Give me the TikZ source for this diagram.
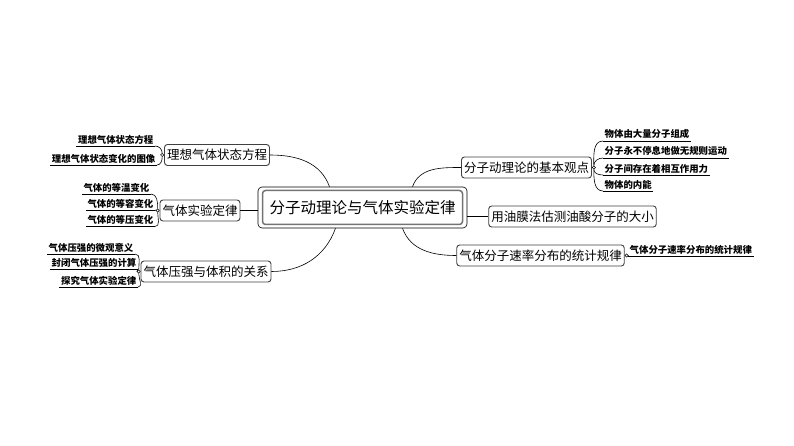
\documentclass[tikz,border=0pt]{standalone}
\usepackage{fontspec}
\newfontfamily\cjk{Noto Sans CJK SC}
\begin{document}
\begin{tikzpicture}[x=1pt,y=-1pt,
  box/.style={draw=black!75, line width=0.9pt, rounded corners=3pt, fill=white,
    font=\cjk\fontsize{12.5}{14}\selectfont, inner xsep=2.5pt, inner ysep=2pt, minimum height=21pt},
  leafL/.style={font=\cjk\bfseries\fontsize{9.4}{10}\selectfont, inner xsep=1.5pt, inner ysep=1.8pt, anchor=south east},
  leafR/.style={font=\cjk\bfseries\fontsize{9.4}{10}\selectfont, inner xsep=1.5pt, inner ysep=1.8pt, anchor=south west},
  uline/.style={line width=0.7pt},
  link/.style={line width=0.6pt},
  dot/.style={circle, draw, line width=0.5pt, inner sep=0pt, minimum size=3.2pt, fill=white}]
\useasboundingbox (0,0) rectangle (794,446);

% central node
\node[draw=black, line width=0.6pt, rounded corners=4pt, minimum width=209pt, minimum height=41pt] (co) at (362.5,207.5) {};
\node[draw=black!55, line width=1.5pt, rounded corners=3pt, minimum width=200pt, minimum height=34pt,
  font=\cjk\fontsize{15.5}{17}\selectfont] (c) at (362.5,207.5) {分子动理论与气体实验定律};

% main branches
\node[box] (A) at (217,155) {理想气体状态方程};
\node[box] (B) at (200,210.5) {气体实验定律};
\node[box] (C) at (206,271.5) {气体压强与体积的关系};
\node[box] (D) at (526.5,167.5) {分子动理论的基本观点};
\node[box] (E) at (572.5,216.5) {用油膜法估测油酸分子的大小};
\node[box] (F) at (540.5,255.5) {气体分子速率分布的统计规律};

% connectors to center
\draw[link] (A.east) to[out=0,in=110] ([xshift=-33pt]co.north);
\draw[link] (D.west) to[out=180,in=70] ([xshift=50pt]co.north);
\draw[link] (B.east) -- (B.east -| co.west);
\draw[link] (E.west -| co.east) -- (E.west);
\draw[link] ([xshift=-27pt]co.south) to[out=-110,in=0] (C.east);
\draw[link] ([xshift=40pt]co.south) to[out=-70,in=180] (F.west);

% dots
\node[dot, anchor=east] (dA) at (A.west) {};
\node[dot, anchor=east] (dB) at (B.west) {};
\node[dot, anchor=east] (dC) at (C.west) {};
\node[dot, anchor=west] (dD) at (D.east) {};
\node[dot, anchor=west] (dF) at (F.east) {};

% leaves of A
\node[leafL] (A1) at (155,146) {理想气体状态方程};
\node[leafL] (A2) at (157,165) {理想气体状态变化的图像};
% leaves of B
\node[leafL] (B1) at (151,194) {气体的等温变化};
\node[leafL] (B2) at (155,210) {气体的等容变化};
\node[leafL] (B3) at (155,226.5) {气体的等压变化};
% leaves of C
\node[leafL] (C1) at (135,254) {气体压强的微观意义};
\node[leafL] (C2) at (138,269.5) {封闭气体压强的计算};
\node[leafL] (C3) at (138,287) {探究气体实验定律};
% leaves of D
\node[leafR] (D1) at (603,141) {物体由大量分子组成};
\node[leafR] (D2) at (603,158) {分子永不停息地做无规则运动};
\node[leafR] (D3) at (603,175) {分子间存在着相互作用力};
\node[leafR] (D4) at (603,191) {物体的内能};
% leaf of F
\node[leafR] (F1) at (628,256) {气体分子速率分布的统计规律};

% underlines
\foreach \n in {A1,A2,B1,B2,B3,C1,C2,C3,D1,D2,D3,D4,F1}
  \draw[uline] (\n.south west) -- (\n.south east);

% brackets left
\draw[link] (A1.south east) to[out=0,in=90] (dA.north);
\draw[link] (A2.south east) to[out=0,in=-90] (dA.south);
\draw[link] (B1.south east) to[out=0,in=90] (dB.north);
\draw[link] (B2.south east) to[out=0,in=180] (dB.west);
\draw[link] (B3.south east) to[out=0,in=-90] (dB.south);
\draw[link] (C1.south east) to[out=0,in=90] (dC.north);
\draw[link] (C2.south east) to[out=0,in=180] (dC.west);
\draw[link] (C3.south east) to[out=0,in=-90] (dC.south);
% brackets right
\draw[link] (dD.north) to[out=90,in=180] (D1.south west);
\draw[link] (dD.north) to[out=90,in=180] (D2.south west);
\draw[link] (dD.south) to[out=-90,in=180] (D3.south west);
\draw[link] (dD.south) to[out=-90,in=180] (D4.south west);
\draw[link] (dF.east) -- (F1.south west);
\end{tikzpicture}
\end{document}
